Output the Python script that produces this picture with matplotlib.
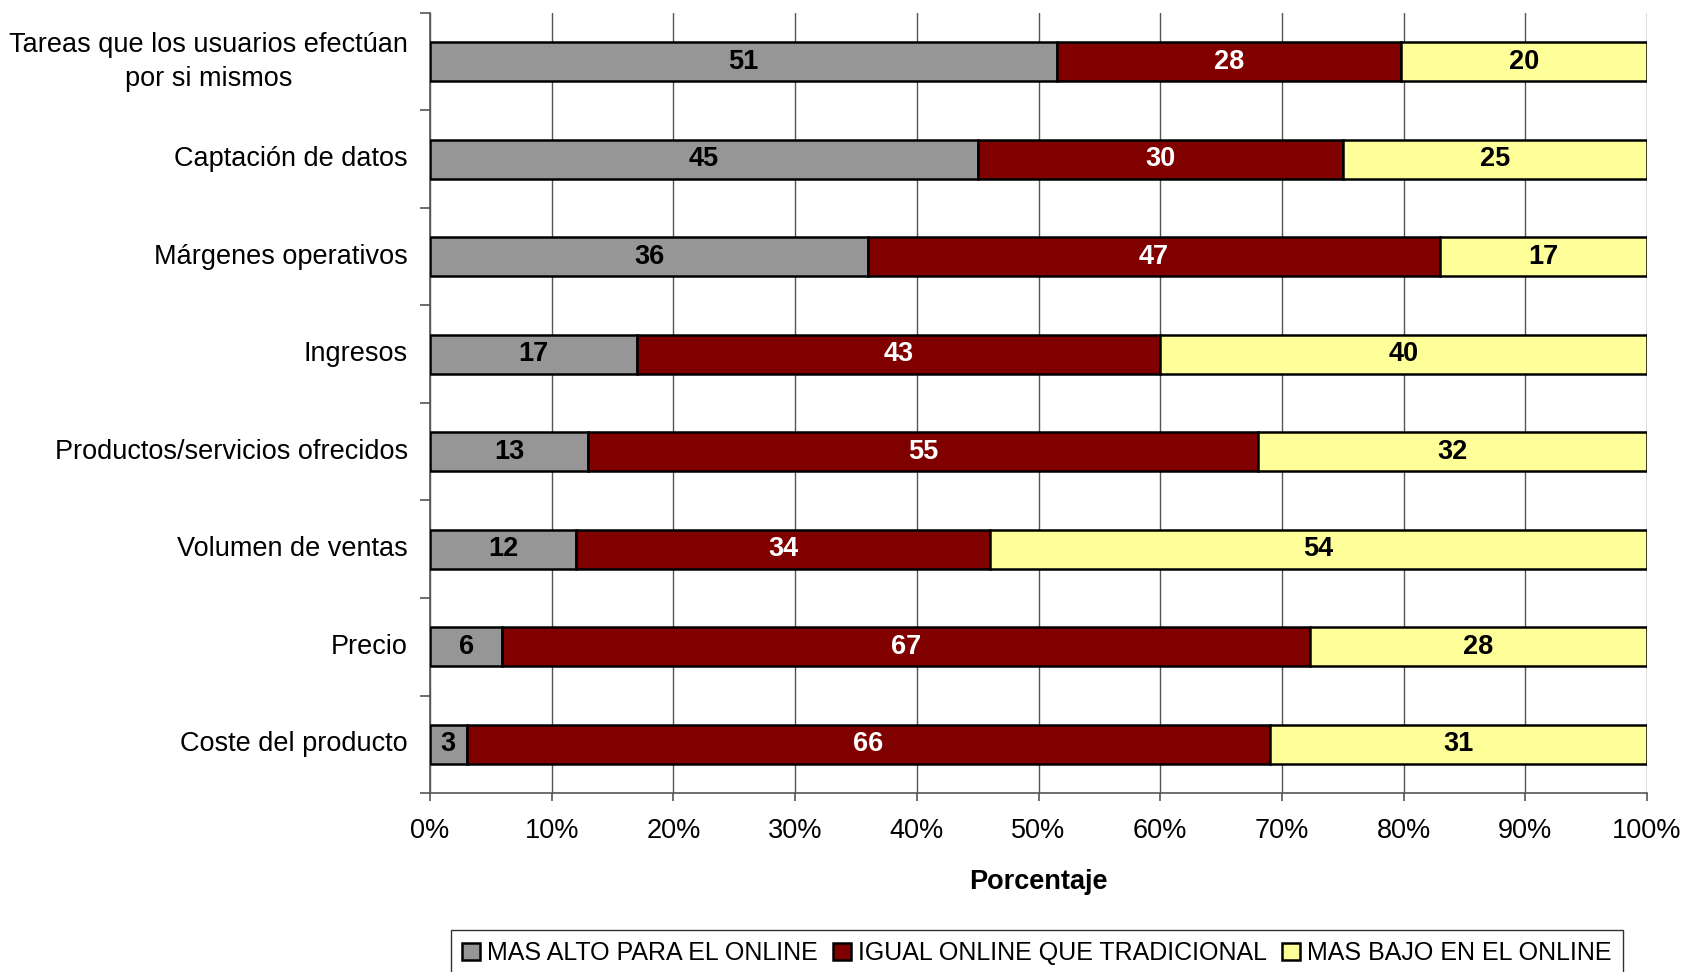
import numpy as np
import matplotlib.pyplot as plt
from matplotlib.ticker import MultipleLocator, PercentFormatter

plt.rcParams['font.family'] = ['Liberation Sans', 'DejaVu Sans']

categories = [
    "Tareas que los usuarios efectúan\npor si mismos",
    "Captación de datos",
    "Márgenes operativos",
    "Ingresos",
    "Productos/servicios ofrecidos",
    "Volumen de ventas",
    "Precio",
    "Coste del producto",
]
mas_alto = [51, 45, 36, 17, 13, 12, 6, 3]
igual = [28, 30, 47, 43, 55, 34, 67, 66]
mas_bajo = [20, 25, 17, 40, 32, 54, 28, 31]

series = [
    ("MAS ALTO PARA EL ONLINE", mas_alto, "#969696", "black"),
    ("IGUAL ONLINE QUE TRADICIONAL", igual, "#800000", "white"),
    ("MAS BAJO EN EL ONLINE", mas_bajo, "#FFFF99", "black"),
]

data = np.array([s[1] for s in series], dtype=float)
totals = data.sum(axis=0)
pct = data / totals * 100

fig = plt.figure(figsize=(16.85, 9.72), dpi=100)
ax = fig.add_axes([430 / 1685, 1 - 793 / 972, (1647 - 430) / 1685, (793 - 13) / 972])

y = np.arange(len(categories))
left = np.zeros(len(categories))
for (name, vals, color, tcolor), p in zip(series, pct):
    bars = ax.barh(y, p, left=left, height=0.4, color=color, edgecolor="black",
                   linewidth=1.8, label=name, zorder=3)
    for b, v in zip(bars, vals):
        ax.text(b.get_x() + b.get_width() / 2, b.get_y() + b.get_height() / 2, str(v),
                ha="center", va="center", color=tcolor, fontsize=19.5, fontweight="bold", zorder=4)
    left += p

ax.set_xlim(0, 100)
ax.set_ylim(len(categories) - 0.5, -0.5)
ax.xaxis.set_major_locator(MultipleLocator(10))
ax.xaxis.set_major_formatter(PercentFormatter(decimals=0))
ax.grid(axis="x", color="#555555", linewidth=1.0, zorder=0)

ax.set_yticks(y)
ax.set_yticklabels(categories, fontsize=19.5, linespacing=1.4, multialignment="center", va="center")
ax.set_yticks(np.arange(len(categories) + 1) - 0.5, minor=True)
ax.tick_params(axis="y", which="major", length=0, pad=16)
ax.tick_params(axis="y", which="minor", length=7, color="#555555", width=1.2)
ax.tick_params(axis="x", labelsize=19.5, length=6, color="#555555", width=1.2, pad=12)

for side in ["top", "right"]:
    ax.spines[side].set_visible(False)
ax.spines["left"].set_color("#555555")
ax.spines["bottom"].set_color("#555555")
ax.spines["left"].set_linewidth(1.2)
ax.spines["bottom"].set_linewidth(1.2)

ax.set_xlabel("Porcentaje", fontsize=19.5, fontweight="bold", labelpad=18)

leg = fig.legend(loc="upper center", bbox_to_anchor=(1037 / 1685, 1 - 930 / 972), ncol=3,
                 fontsize=18, frameon=True, fancybox=False, edgecolor="black",
                 handlelength=0.7, handleheight=0.7, handletextpad=0.3, columnspacing=0.6,
                 borderpad=0.45, borderaxespad=0)
leg.get_frame().set_linewidth(1.0)

fig.savefig("out.png", dpi=100)
